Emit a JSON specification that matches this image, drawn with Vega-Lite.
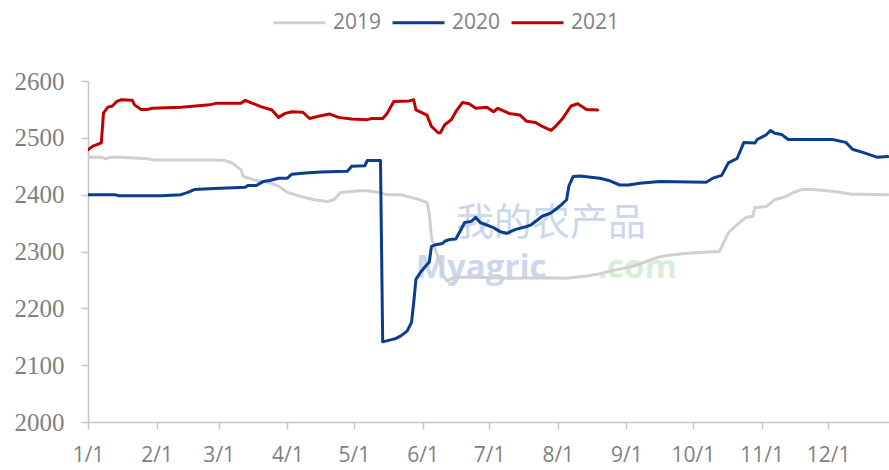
{
  "$schema": "https://vega.github.io/schema/vega-lite/v6.json",
  "width": 801,
  "height": 341,
  "autosize": "none",
  "padding": {"left": 88, "top": 81, "right": 0, "bottom": 48},
  "background": "white",
  "config": {"view": {"stroke": null}},
  "datasets": {
    "lines": [
      {"date": "2021-01-01", "series": "2019", "value": 2466},
      {"date": "2021-01-07", "series": "2019", "value": 2466},
      {"date": "2021-01-09", "series": "2019", "value": 2463},
      {"date": "2021-01-11", "series": "2019", "value": 2466},
      {"date": "2021-01-16", "series": "2019", "value": 2466},
      {"date": "2021-01-28", "series": "2019", "value": 2463},
      {"date": "2021-01-31", "series": "2019", "value": 2461},
      {"date": "2021-02-27", "series": "2019", "value": 2461},
      {"date": "2021-03-04", "series": "2019", "value": 2460},
      {"date": "2021-03-07", "series": "2019", "value": 2456},
      {"date": "2021-03-11", "series": "2019", "value": 2444},
      {"date": "2021-03-12", "series": "2019", "value": 2432},
      {"date": "2021-03-17", "series": "2019", "value": 2426},
      {"date": "2021-03-24", "series": "2019", "value": 2421},
      {"date": "2021-03-28", "series": "2019", "value": 2415},
      {"date": "2021-04-01", "series": "2019", "value": 2404},
      {"date": "2021-04-07", "series": "2019", "value": 2397},
      {"date": "2021-04-13", "series": "2019", "value": 2391},
      {"date": "2021-04-19", "series": "2019", "value": 2388},
      {"date": "2021-04-22", "series": "2019", "value": 2391},
      {"date": "2021-04-25", "series": "2019", "value": 2404},
      {"date": "2021-05-04", "series": "2019", "value": 2407},
      {"date": "2021-05-07", "series": "2019", "value": 2407},
      {"date": "2021-05-12", "series": "2019", "value": 2404},
      {"date": "2021-05-16", "series": "2019", "value": 2400},
      {"date": "2021-05-22", "series": "2019", "value": 2400},
      {"date": "2021-05-25", "series": "2019", "value": 2397},
      {"date": "2021-05-30", "series": "2019", "value": 2392},
      {"date": "2021-06-03", "series": "2019", "value": 2386},
      {"date": "2021-06-04", "series": "2019", "value": 2368},
      {"date": "2021-06-05", "series": "2019", "value": 2325},
      {"date": "2021-06-07", "series": "2019", "value": 2300},
      {"date": "2021-06-09", "series": "2019", "value": 2280},
      {"date": "2021-06-10", "series": "2019", "value": 2260},
      {"date": "2021-06-12", "series": "2019", "value": 2248},
      {"date": "2021-06-15", "series": "2019", "value": 2254},
      {"date": "2021-06-21", "series": "2019", "value": 2255},
      {"date": "2021-07-10", "series": "2019", "value": 2253},
      {"date": "2021-07-25", "series": "2019", "value": 2254},
      {"date": "2021-08-05", "series": "2019", "value": 2253},
      {"date": "2021-08-14", "series": "2019", "value": 2257},
      {"date": "2021-08-20", "series": "2019", "value": 2261},
      {"date": "2021-08-24", "series": "2019", "value": 2265},
      {"date": "2021-09-04", "series": "2019", "value": 2274},
      {"date": "2021-09-16", "series": "2019", "value": 2291},
      {"date": "2021-09-26", "series": "2019", "value": 2296},
      {"date": "2021-10-08", "series": "2019", "value": 2299},
      {"date": "2021-10-13", "series": "2019", "value": 2300},
      {"date": "2021-10-17", "series": "2019", "value": 2333},
      {"date": "2021-10-22", "series": "2019", "value": 2351},
      {"date": "2021-10-25", "series": "2019", "value": 2360},
      {"date": "2021-10-28", "series": "2019", "value": 2362},
      {"date": "2021-10-29", "series": "2019", "value": 2377},
      {"date": "2021-11-03", "series": "2019", "value": 2379},
      {"date": "2021-11-07", "series": "2019", "value": 2391},
      {"date": "2021-11-12", "series": "2019", "value": 2397},
      {"date": "2021-11-15", "series": "2019", "value": 2403},
      {"date": "2021-11-19", "series": "2019", "value": 2409},
      {"date": "2021-11-24", "series": "2019", "value": 2409},
      {"date": "2021-12-03", "series": "2019", "value": 2406},
      {"date": "2021-12-11", "series": "2019", "value": 2401},
      {"date": "2021-12-28", "series": "2019", "value": 2400},

      {"date": "2021-01-01", "series": "2020", "value": 2400},
      {"date": "2021-01-13", "series": "2020", "value": 2400},
      {"date": "2021-01-15", "series": "2020", "value": 2398},
      {"date": "2021-02-03", "series": "2020", "value": 2398},
      {"date": "2021-02-12", "series": "2020", "value": 2400},
      {"date": "2021-02-15", "series": "2020", "value": 2404},
      {"date": "2021-02-18", "series": "2020", "value": 2409},
      {"date": "2021-02-27", "series": "2020", "value": 2411},
      {"date": "2021-03-13", "series": "2020", "value": 2413},
      {"date": "2021-03-14", "series": "2020", "value": 2416},
      {"date": "2021-03-18", "series": "2020", "value": 2416},
      {"date": "2021-03-21", "series": "2020", "value": 2423},
      {"date": "2021-03-24", "series": "2020", "value": 2425},
      {"date": "2021-03-28", "series": "2020", "value": 2429},
      {"date": "2021-04-01", "series": "2020", "value": 2429},
      {"date": "2021-04-03", "series": "2020", "value": 2436},
      {"date": "2021-04-09", "series": "2020", "value": 2438},
      {"date": "2021-04-16", "series": "2020", "value": 2440},
      {"date": "2021-04-28", "series": "2020", "value": 2441},
      {"date": "2021-04-30", "series": "2020", "value": 2450},
      {"date": "2021-05-06", "series": "2020", "value": 2451},
      {"date": "2021-05-07", "series": "2020", "value": 2460},
      {"date": "2021-05-13", "series": "2020", "value": 2460},
      {"date": "2021-05-14", "series": "2020", "value": 2141},
      {"date": "2021-05-18", "series": "2020", "value": 2145},
      {"date": "2021-05-20", "series": "2020", "value": 2147},
      {"date": "2021-05-22", "series": "2020", "value": 2151},
      {"date": "2021-05-25", "series": "2020", "value": 2160},
      {"date": "2021-05-27", "series": "2020", "value": 2175},
      {"date": "2021-05-28", "series": "2020", "value": 2210},
      {"date": "2021-05-29", "series": "2020", "value": 2251},
      {"date": "2021-05-31", "series": "2020", "value": 2263},
      {"date": "2021-06-03", "series": "2020", "value": 2277},
      {"date": "2021-06-04", "series": "2020", "value": 2281},
      {"date": "2021-06-05", "series": "2020", "value": 2309},
      {"date": "2021-06-07", "series": "2020", "value": 2312},
      {"date": "2021-06-10", "series": "2020", "value": 2314},
      {"date": "2021-06-11", "series": "2020", "value": 2318},
      {"date": "2021-06-13", "series": "2020", "value": 2321},
      {"date": "2021-06-16", "series": "2020", "value": 2322},
      {"date": "2021-06-18", "series": "2020", "value": 2336},
      {"date": "2021-06-20", "series": "2020", "value": 2351},
      {"date": "2021-06-23", "series": "2020", "value": 2353},
      {"date": "2021-06-25", "series": "2020", "value": 2360},
      {"date": "2021-06-27", "series": "2020", "value": 2351},
      {"date": "2021-07-03", "series": "2020", "value": 2342},
      {"date": "2021-07-06", "series": "2020", "value": 2335},
      {"date": "2021-07-09", "series": "2020", "value": 2332},
      {"date": "2021-07-13", "series": "2020", "value": 2339},
      {"date": "2021-07-18", "series": "2020", "value": 2344},
      {"date": "2021-07-20", "series": "2020", "value": 2347},
      {"date": "2021-07-25", "series": "2020", "value": 2362},
      {"date": "2021-07-29", "series": "2020", "value": 2368},
      {"date": "2021-08-02", "series": "2020", "value": 2380},
      {"date": "2021-08-05", "series": "2020", "value": 2391},
      {"date": "2021-08-06", "series": "2020", "value": 2415},
      {"date": "2021-08-08", "series": "2020", "value": 2432},
      {"date": "2021-08-11", "series": "2020", "value": 2433},
      {"date": "2021-08-20", "series": "2020", "value": 2429},
      {"date": "2021-08-24", "series": "2020", "value": 2425},
      {"date": "2021-08-29", "series": "2020", "value": 2417},
      {"date": "2021-09-02", "series": "2020", "value": 2417},
      {"date": "2021-09-07", "series": "2020", "value": 2420},
      {"date": "2021-09-16", "series": "2020", "value": 2423},
      {"date": "2021-10-07", "series": "2020", "value": 2422},
      {"date": "2021-10-10", "series": "2020", "value": 2429},
      {"date": "2021-10-14", "series": "2020", "value": 2434},
      {"date": "2021-10-17", "series": "2020", "value": 2456},
      {"date": "2021-10-21", "series": "2020", "value": 2464},
      {"date": "2021-10-24", "series": "2020", "value": 2492},
      {"date": "2021-10-29", "series": "2020", "value": 2491},
      {"date": "2021-10-30", "series": "2020", "value": 2497},
      {"date": "2021-11-03", "series": "2020", "value": 2505},
      {"date": "2021-11-05", "series": "2020", "value": 2513},
      {"date": "2021-11-07", "series": "2020", "value": 2508},
      {"date": "2021-11-10", "series": "2020", "value": 2506},
      {"date": "2021-11-13", "series": "2020", "value": 2497},
      {"date": "2021-12-03", "series": "2020", "value": 2497},
      {"date": "2021-12-09", "series": "2020", "value": 2492},
      {"date": "2021-12-12", "series": "2020", "value": 2480},
      {"date": "2021-12-17", "series": "2020", "value": 2474},
      {"date": "2021-12-23", "series": "2020", "value": 2466},
      {"date": "2021-12-28", "series": "2020", "value": 2467},

      {"date": "2021-01-01", "series": "2021", "value": 2479},
      {"date": "2021-01-03", "series": "2021", "value": 2485},
      {"date": "2021-01-07", "series": "2021", "value": 2491},
      {"date": "2021-01-08", "series": "2021", "value": 2544},
      {"date": "2021-01-10", "series": "2021", "value": 2554},
      {"date": "2021-01-12", "series": "2021", "value": 2556},
      {"date": "2021-01-14", "series": "2021", "value": 2564},
      {"date": "2021-01-16", "series": "2021", "value": 2567},
      {"date": "2021-01-21", "series": "2021", "value": 2566},
      {"date": "2021-01-22", "series": "2021", "value": 2558},
      {"date": "2021-01-25", "series": "2021", "value": 2550},
      {"date": "2021-01-28", "series": "2021", "value": 2550},
      {"date": "2021-01-30", "series": "2021", "value": 2552},
      {"date": "2021-02-12", "series": "2021", "value": 2554},
      {"date": "2021-02-25", "series": "2021", "value": 2558},
      {"date": "2021-02-28", "series": "2021", "value": 2561},
      {"date": "2021-03-11", "series": "2021", "value": 2561},
      {"date": "2021-03-13", "series": "2021", "value": 2566},
      {"date": "2021-03-16", "series": "2021", "value": 2561},
      {"date": "2021-03-20", "series": "2021", "value": 2555},
      {"date": "2021-03-25", "series": "2021", "value": 2549},
      {"date": "2021-03-28", "series": "2021", "value": 2536},
      {"date": "2021-03-31", "series": "2021", "value": 2543},
      {"date": "2021-04-03", "series": "2021", "value": 2546},
      {"date": "2021-04-08", "series": "2021", "value": 2545},
      {"date": "2021-04-11", "series": "2021", "value": 2534},
      {"date": "2021-04-15", "series": "2021", "value": 2538},
      {"date": "2021-04-20", "series": "2021", "value": 2542},
      {"date": "2021-04-24", "series": "2021", "value": 2536},
      {"date": "2021-04-30", "series": "2021", "value": 2533},
      {"date": "2021-05-07", "series": "2021", "value": 2532},
      {"date": "2021-05-09", "series": "2021", "value": 2534},
      {"date": "2021-05-14", "series": "2021", "value": 2534},
      {"date": "2021-05-16", "series": "2021", "value": 2543},
      {"date": "2021-05-19", "series": "2021", "value": 2564},
      {"date": "2021-05-26", "series": "2021", "value": 2565},
      {"date": "2021-05-28", "series": "2021", "value": 2567},
      {"date": "2021-05-29", "series": "2021", "value": 2549},
      {"date": "2021-06-03", "series": "2021", "value": 2540},
      {"date": "2021-06-05", "series": "2021", "value": 2520},
      {"date": "2021-06-08", "series": "2021", "value": 2509},
      {"date": "2021-06-09", "series": "2021", "value": 2509},
      {"date": "2021-06-11", "series": "2021", "value": 2523},
      {"date": "2021-06-14", "series": "2021", "value": 2532},
      {"date": "2021-06-16", "series": "2021", "value": 2546},
      {"date": "2021-06-19", "series": "2021", "value": 2562},
      {"date": "2021-06-22", "series": "2021", "value": 2560},
      {"date": "2021-06-25", "series": "2021", "value": 2552},
      {"date": "2021-06-30", "series": "2021", "value": 2554},
      {"date": "2021-07-03", "series": "2021", "value": 2546},
      {"date": "2021-07-05", "series": "2021", "value": 2552},
      {"date": "2021-07-10", "series": "2021", "value": 2543},
      {"date": "2021-07-15", "series": "2021", "value": 2540},
      {"date": "2021-07-18", "series": "2021", "value": 2529},
      {"date": "2021-07-22", "series": "2021", "value": 2527},
      {"date": "2021-07-25", "series": "2021", "value": 2520},
      {"date": "2021-07-29", "series": "2021", "value": 2513},
      {"date": "2021-07-31", "series": "2021", "value": 2520},
      {"date": "2021-08-03", "series": "2021", "value": 2533},
      {"date": "2021-08-07", "series": "2021", "value": 2556},
      {"date": "2021-08-10", "series": "2021", "value": 2560},
      {"date": "2021-08-14", "series": "2021", "value": 2550},
      {"date": "2021-08-19", "series": "2021", "value": 2549}
    ],
    "wm": [
      {"date": "2021-07-29", "value": 2349, "text": "我的农产品", "part": "cn"},
      {"date": "2021-05-29", "value": 2254, "text": "Myagric", "part": "en"},
      {"date": "2021-08-19", "value": 2254, "text": ".com", "part": "com"}
    ]
  },
  "encoding": {
    "x": {
      "field": "date",
      "type": "temporal",
      "scale": {
        "type": "utc",
        "domain": [
          {"year": 2021, "month": 1, "date": 1, "utc": true},
          {"year": 2021, "month": 12, "date": 28, "hours": 12, "utc": true}
        ]
      },
      "axis": {
        "title": null,
        "format": "%-m/%-d",
        "values": [
          {"year": 2021, "month": 1, "date": 1, "utc": true},
          {"year": 2021, "month": 2, "date": 1, "utc": true},
          {"year": 2021, "month": 3, "date": 1, "utc": true},
          {"year": 2021, "month": 4, "date": 1, "utc": true},
          {"year": 2021, "month": 5, "date": 1, "utc": true},
          {"year": 2021, "month": 6, "date": 1, "utc": true},
          {"year": 2021, "month": 7, "date": 1, "utc": true},
          {"year": 2021, "month": 8, "date": 1, "utc": true},
          {"year": 2021, "month": 9, "date": 1, "utc": true},
          {"year": 2021, "month": 10, "date": 1, "utc": true},
          {"year": 2021, "month": 11, "date": 1, "utc": true},
          {"year": 2021, "month": 12, "date": 1, "utc": true}
        ],
        "grid": false,
        "domainColor": "#c6c6c6",
        "domainWidth": 1.5,
        "tickColor": "#c6c6c6",
        "tickWidth": 1.5,
        "tickSize": 7,
        "labelFont": "Open Sans",
        "labelFontSize": 21,
        "labelColor": "#7f7f7f",
        "labelPadding": 15,
        "labelFlush": false,
        "labelOverlap": false
      }
    },
    "y": {
      "field": "value",
      "type": "quantitative",
      "scale": {"domain": [2000, 2600], "nice": false, "zero": false},
      "axis": {
        "title": null,
        "format": "d",
        "values": [2000, 2100, 2200, 2300, 2400, 2500, 2600],
        "grid": false,
        "domainColor": "#c6c6c6",
        "domainWidth": 1.5,
        "tickColor": "#c6c6c6",
        "tickWidth": 1.5,
        "tickSize": 7,
        "labelFont": "Liberation Serif",
        "labelFontSize": 25,
        "labelColor": "#7f7f7f",
        "labelPadding": 17
      }
    }
  },
  "layer": [
    {
      "data": {"name": "wm"},
      "transform": [{"filter": "datum.part == 'cn'"}],
      "mark": {"type": "text", "font": "Noto Sans CJK SC", "fontSize": 38, "color": "#cad7ec", "align": "center", "baseline": "middle"},
      "encoding": {"text": {"field": "text"}}
    },
    {
      "data": {"name": "wm"},
      "transform": [{"filter": "datum.part == 'en'"}],
      "mark": {"type": "text", "font": "Open Sans", "fontSize": 33, "fontWeight": "bold", "color": "#cad7ec", "align": "left", "baseline": "alphabetic"},
      "encoding": {"text": {"field": "text"}}
    },
    {
      "data": {"name": "wm"},
      "transform": [{"filter": "datum.part == 'com'"}],
      "mark": {"type": "text", "font": "Open Sans", "fontSize": 33, "fontWeight": "bold", "color": "#d9eed6", "align": "left", "baseline": "alphabetic"},
      "encoding": {"text": {"field": "text"}}
    },
    {
      "data": {"name": "lines"},
      "mark": {"type": "line", "strokeWidth": 3, "strokeJoin": "round", "strokeCap": "round", "clip": true},
      "encoding": {
        "color": {
          "field": "series",
          "type": "nominal",
          "scale": {"domain": ["2019", "2020", "2021"], "range": ["#d0d0d0", "#0b3d8e", "#c00000"]},
          "legend": {
            "title": null,
            "orient": "none",
            "direction": "horizontal",
            "legendX": 184,
            "legendY": -86,
            "symbolType": "stroke",
            "symbolSize": 2700,
            "symbolStrokeWidth": 3,
            "labelFont": "Open Sans",
            "labelFontSize": 21,
            "labelColor": "#7f7f7f",
            "labelOffset": 6,
            "columnPadding": 4
          }
        }
      }
    }
  ]
}
